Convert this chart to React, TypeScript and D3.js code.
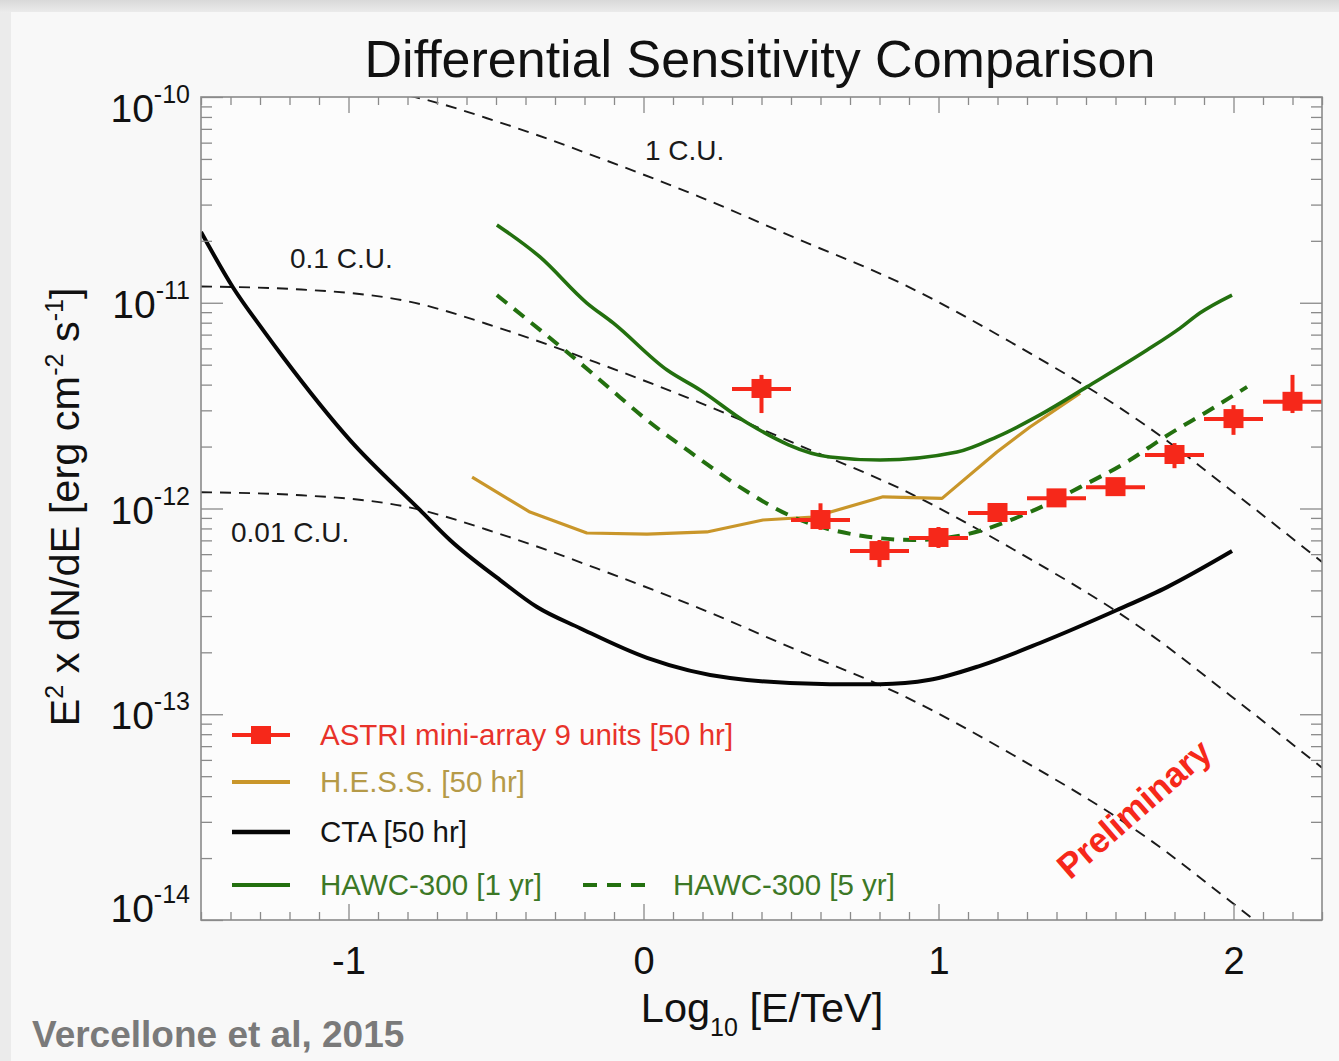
import React, { useEffect, useRef } from "react";
import * as d3 from "d3";

const W = 1339;
const H = 1061;
const PLOT = { left: 201, right: 1322, top: 97, bottom: 920 };
const FONT = "'Liberation Sans', Arial, Helvetica, sans-serif";
const AXIS_COLOR = "#8a8a8a";

// Crab Nebula reference spectrum (1 C.U.), E^2 dN/dE in erg cm^-2 s^-1
const crabLogE = [-1.5, -1.16, -0.79, -0.49, -0.15, 0.19, 0.53, 0.87, 1.25, 1.71, 1.99, 2.3];
const crabFlux = [1.2e-10, 1.16e-10, 1.01e-10, 7.55e-11, 5.06e-11, 3.27e-11, 2.02e-11, 1.25e-11, 6.37e-12, 2.49e-12, 1.23e-12, 5.5e-13];
const crabFractions = [1, 0.1, 0.01];
const crabLabels = ["1 C.U.", "0.1 C.U.", "0.01 C.U."];

// CTA [50 hr]
const ctaLogE = [-1.5, -1.392, -1.29, -1.222, -0.995, -0.758, -0.656, -0.486, -0.361, -0.215, 0.012, 0.293, 0.632, 0.802, 0.971, 1.141, 1.344, 1.605, 1.775, 1.995];
const ctaFlux = [2.21e-11, 1.19e-11, 7.38e-12, 5.45e-12, 2.15e-12, 9.84e-13, 7.03e-13, 4.49e-13, 3.32e-13, 2.62e-13, 1.88e-13, 1.5e-13, 1.4e-13, 1.4e-13, 1.47e-13, 1.72e-13, 2.22e-13, 3.21e-13, 4.15e-13, 6.21e-13];

// H.E.S.S. [50 hr]
const hessLogE = [-0.581, -0.385, -0.192, 0.012, 0.215, 0.405, 0.575, 0.812, 1.012, 1.198, 1.31, 1.48];
const hessFlux = [1.42e-12, 9.61e-13, 7.6e-13, 7.51e-13, 7.69e-13, 8.79e-13, 9.09e-13, 1.14e-12, 1.12e-12, 1.88e-12, 2.49e-12, 3.64e-12];

// HAWC-300 [1 yr]
const hawc1LogE = [-0.497, -0.351, -0.192, -0.103, 0.08, 0.192, 0.351, 0.632, 0.802, 1.063, 1.198, 1.344, 1.503, 1.707, 1.819, 1.886, 1.995];
const hawc1Flux = [2.39e-11, 1.67e-11, 9.97e-12, 7.98e-12, 4.71e-12, 3.77e-12, 2.61e-12, 1.78e-12, 1.72e-12, 1.88e-12, 2.23e-12, 2.85e-12, 3.9e-12, 5.89e-12, 7.53e-12, 8.91e-12, 1.09e-11];

// HAWC-300 [5 yr]
const hawc5LogE = [-0.497, -0.351, -0.239, -0.124, 0.012, 0.181, 0.327, 0.507, 0.744, 0.914, 1.083, 1.31, 1.48, 1.649, 1.761, 1.931, 2.046];
const hawc5Flux = [1.09e-11, 7.38e-12, 5.45e-12, 3.94e-12, 2.69e-12, 1.78e-12, 1.27e-12, 9.09e-13, 7.35e-13, 7.03e-13, 7.43e-13, 9.61e-13, 1.27e-12, 1.72e-12, 2.2e-12, 3.08e-12, 3.9e-12];

// ASTRI mini-array 9 units [50 hr]
const astriLogE = [0.4, 0.6, 0.8, 1.0, 1.2, 1.4, 1.6, 1.8, 2.0, 2.2];
const astriFlux = [3.81e-12, 8.79e-13, 6.21e-13, 7.19e-13, 9.51e-13, 1.12e-12, 1.27e-12, 1.82e-12, 2.72e-12, 3.3e-12];
const astriLow = [2.91e-12, 7.87e-13, 5.2e-13, 6.43e-13, 8.9e-13, 1.05e-12, 1.2e-12, 1.57e-12, 2.28e-12, 2.91e-12];
const astriHigh = [4.46e-12, 1.06e-12, 7.03e-13, 8.13e-13, 1.0e-12, 1.18e-12, 1.34e-12, 2.08e-12, 3.18e-12, 4.46e-12];
const astriBinHalfWidth = 0.1;

const xTickValues = [-1, 0, 1, 2];
const yDecades = [-10, -11, -12, -13, -14];

const RED = "#f6281a";
const GOLD = "#c9962a";
const GREEN = "#23700f";

const x = d3.scaleLinear().domain([-1.5, 2.3]).range([PLOT.left, PLOT.right]);
const y = d3.scaleLog().domain([1e-14, 1e-10]).range([PLOT.bottom, PLOT.top]);

type Pt = [number, number];
const zip = (a: number[], b: number[]): Pt[] => a.map((v, i) => [v, b[i]]);

const lineLinear = d3.line<Pt>().x((d) => x(d[0])).y((d) => y(d[1]));
const lineSmooth = d3
  .line<Pt>()
  .x((d) => x(d[0]))
  .y((d) => y(d[1]))
  .curve(d3.curveMonotoneX);

export default function App() {
  const axesRef = useRef<SVGGElement | null>(null);

  useEffect(() => {
    const g = d3.select(axesRef.current);
    g.selectAll("*").remove();

    const xMinor = d3.range(-15, 24).map((i) => i / 10).filter((v) => Math.abs(v - Math.round(v)) > 1e-6);
    const yAll = y.ticks();
    const isDecade = (v: number) => Math.abs(Math.log10(v) - Math.round(Math.log10(v))) < 1e-6;
    const yMinor = yAll.filter((v) => !isDecade(v));
    const yMajor = yAll.filter(isDecade);

    const add = (transform: string, axis: any) => {
      const s = g.append("g").attr("transform", transform).call(axis);
      s.select(".domain").remove();
      s.selectAll("line").attr("stroke", AXIS_COLOR).attr("stroke-width", 1.3);
      return s;
    };
    const blank = () => "";

    // bottom
    add(`translate(0,${PLOT.bottom})`, d3.axisBottom(x).tickValues(xMinor).tickSizeInner(-8).tickSizeOuter(0).tickFormat(blank));
    const bottomMajor = add(
      `translate(0,${PLOT.bottom})`,
      d3.axisBottom(x).tickValues(xTickValues).tickSizeInner(-16).tickSizeOuter(0).tickPadding(27).tickFormat((d: any) => String(d))
    );
    bottomMajor.attr("font-family", FONT).attr("font-size", 38);
    bottomMajor.selectAll("text").attr("fill", "#111");

    // top
    add(`translate(0,${PLOT.top})`, d3.axisTop(x).tickValues(xMinor).tickSizeInner(-8).tickSizeOuter(0).tickFormat(blank));
    add(`translate(0,${PLOT.top})`, d3.axisTop(x).tickValues(xTickValues).tickSizeInner(-16).tickSizeOuter(0).tickFormat(blank));

    // left
    add(`translate(${PLOT.left},0)`, d3.axisLeft(y).tickValues(yMinor).tickSizeInner(-11).tickSizeOuter(0).tickFormat(blank));
    add(`translate(${PLOT.left},0)`, d3.axisLeft(y).tickValues(yMajor).tickSizeInner(-22).tickSizeOuter(0).tickFormat(blank));

    // right
    add(`translate(${PLOT.right},0)`, d3.axisRight(y).tickValues(yMinor).tickSizeInner(-11).tickSizeOuter(0).tickFormat(blank));
    add(`translate(${PLOT.right},0)`, d3.axisRight(y).tickValues(yMajor).tickSizeInner(-22).tickSizeOuter(0).tickFormat(blank));
  }, []);

  const crabPts = zip(crabLogE, crabFlux);
  const cuLabelPos: { x: number; y: number }[] = [
    { x: 645, y: 160 },
    { x: 290, y: 268 },
    { x: 231, y: 542 },
  ];

  const legendRows = [
    { label: "ASTRI mini-array 9 units [50 hr]", y: 735, text: "#e8322a" },
    { label: "H.E.S.S. [50 hr]", y: 782, text: "#b59a48" },
    { label: "CTA [50 hr]", y: 832, text: "#141414" },
    { label: "HAWC-300 [1 yr]", y: 885, text: "#3c7826" },
  ];

  return (
    <div style={{ position: "absolute", left: 0, top: 0 }}>
      <svg width={W} height={H} viewBox={`0 0 ${W} ${H}`} style={{ display: "block" }} fontFamily={FONT}>
        <defs>
          <clipPath id="plot-clip">
            <rect x={PLOT.left} y={PLOT.top} width={PLOT.right - PLOT.left} height={PLOT.bottom - PLOT.top} />
          </clipPath>
          <linearGradient id="top-shade" x1="0" y1="0" x2="0" y2="1">
            <stop offset="0" stopColor="#d9d9d9" />
            <stop offset="1" stopColor="#ececec" />
          </linearGradient>
        </defs>

        {/* page and panel */}
        <rect x={0} y={0} width={W} height={H} fill="#ebebeb" />
        <rect x={0} y={0} width={W} height={13} fill="url(#top-shade)" />
        <rect x={11} y={12} width={W - 11} height={H - 12} fill="#f8f8f8" />
        <rect x={PLOT.left} y={PLOT.top} width={PLOT.right - PLOT.left} height={PLOT.bottom - PLOT.top} fill="#fcfcfc" />

        {/* title */}
        <text x={760} y={77} textAnchor="middle" fontSize={52} fill="#111">
          Differential Sensitivity Comparison
        </text>

        <g clipPath="url(#plot-clip)">
          {/* Crab unit reference curves */}
          {crabFractions.map((f, i) => (
            <path
              key={`cu-${i}`}
              d={d3.line<Pt>().x((d) => x(d[0])).y((d) => y(d[1] * f)).curve(d3.curveMonotoneX)(crabPts) || ""}
              fill="none"
              stroke="#1a1a1a"
              strokeWidth={1.9}
              strokeDasharray="11 8"
            />
          ))}

          {/* CTA */}
          <path d={lineSmooth(zip(ctaLogE, ctaFlux)) || ""} fill="none" stroke="#050505" strokeWidth={4} strokeLinejoin="round" />
          {/* H.E.S.S. */}
          <path d={lineLinear(zip(hessLogE, hessFlux)) || ""} fill="none" stroke={GOLD} strokeWidth={3.2} strokeLinejoin="round" />
          {/* HAWC 1 yr */}
          <path d={lineSmooth(zip(hawc1LogE, hawc1Flux)) || ""} fill="none" stroke={GREEN} strokeWidth={3.6} strokeLinejoin="round" />
          {/* HAWC 5 yr */}
          <path d={lineSmooth(zip(hawc5LogE, hawc5Flux)) || ""} fill="none" stroke={GREEN} strokeWidth={4} strokeDasharray="13 9" />

          {/* ASTRI points with error bars */}
          {astriLogE.map((e, i) => {
            const cx = x(e);
            const cy = y(astriFlux[i]);
            return (
              <g key={`astri-${i}`} fill={RED} stroke={RED}>
                <line x1={x(e - astriBinHalfWidth)} x2={x(e + astriBinHalfWidth)} y1={cy} y2={cy} strokeWidth={4} />
                <line x1={cx} x2={cx} y1={y(astriHigh[i])} y2={y(astriLow[i])} strokeWidth={4} />
                <rect x={cx - 10} y={cy - 10} width={20} height={19} stroke="none" />
              </g>
            );
          })}
        </g>

        {/* C.U. labels */}
        {crabLabels.map((t, i) => (
          <text key={t} x={cuLabelPos[i].x} y={cuLabelPos[i].y} fontSize={28} fill="#1a1a1a">
            {t}
          </text>
        ))}

        {/* frame */}
        <rect
          x={PLOT.left}
          y={PLOT.top}
          width={PLOT.right - PLOT.left}
          height={PLOT.bottom - PLOT.top}
          fill="none"
          stroke={AXIS_COLOR}
          strokeWidth={1.6}
        />
        <g ref={axesRef} />

        {/* y tick labels */}
        {yDecades.map((p) => {
          const base = Math.max(122, Math.min(922, y(Math.pow(10, p)) + 15));
          return (
            <text key={p} x={190} y={base} textAnchor="end" fontSize={39} fill="#111">
              10
              <tspan dy={-19} fontSize={25}>
                {String(p)}
              </tspan>
            </text>
          );
        })}

        {/* axis titles */}
        <text x={762} y={1022} textAnchor="middle" fontSize={41.5} fill="#111">
          Log
          <tspan dy={14} fontSize={25}>
            10
          </tspan>
          <tspan dy={-14}> [E/TeV]</tspan>
        </text>
        <text transform="translate(79,507) rotate(-90)" textAnchor="middle" fontSize={41.5} fill="#111">
          E
          <tspan dy={-16} fontSize={25}>
            2
          </tspan>
          <tspan dy={16}> x dN/dE [erg cm</tspan>
          <tspan dy={-16} fontSize={25}>
            -2
          </tspan>
          <tspan dy={16}> s</tspan>
          <tspan dy={-16} fontSize={25}>
            -1
          </tspan>
          <tspan dy={16}>]</tspan>
        </text>

        {/* legend */}
        <g>
          <line x1={232} x2={290} y1={735} y2={735} stroke={RED} strokeWidth={4} />
          <rect x={251} y={726} width={20} height={18} fill={RED} />
          <line x1={232} x2={290} y1={782} y2={782} stroke={GOLD} strokeWidth={4} />
          <line x1={232} x2={290} y1={832} y2={832} stroke="#050505" strokeWidth={4.5} />
          <line x1={232} x2={290} y1={885} y2={885} stroke={GREEN} strokeWidth={4} />
          <line x1={583} x2={645} y1={885} y2={885} stroke={GREEN} strokeWidth={4} strokeDasharray="14 10" />
          {legendRows.map((r) => (
            <text key={r.label} x={320} y={r.y + 10} fontSize={29.5} fill={r.text}>
              {r.label}
            </text>
          ))}
          <text x={673} y={895} fontSize={29.5} fill="#3c7826">
            HAWC-300 [5 yr]
          </text>
        </g>

        {/* annotations */}
        <text transform="translate(1142,818) rotate(-41)" textAnchor="middle" fontSize={35} fontWeight="bold" fill={RED}>
          Preliminary
        </text>
        <text x={32} y={1047} fontSize={37} fontWeight="bold" fill="#7a7a7a">
          Vercellone et al, 2015
        </text>
      </svg>
    </div>
  );
}
